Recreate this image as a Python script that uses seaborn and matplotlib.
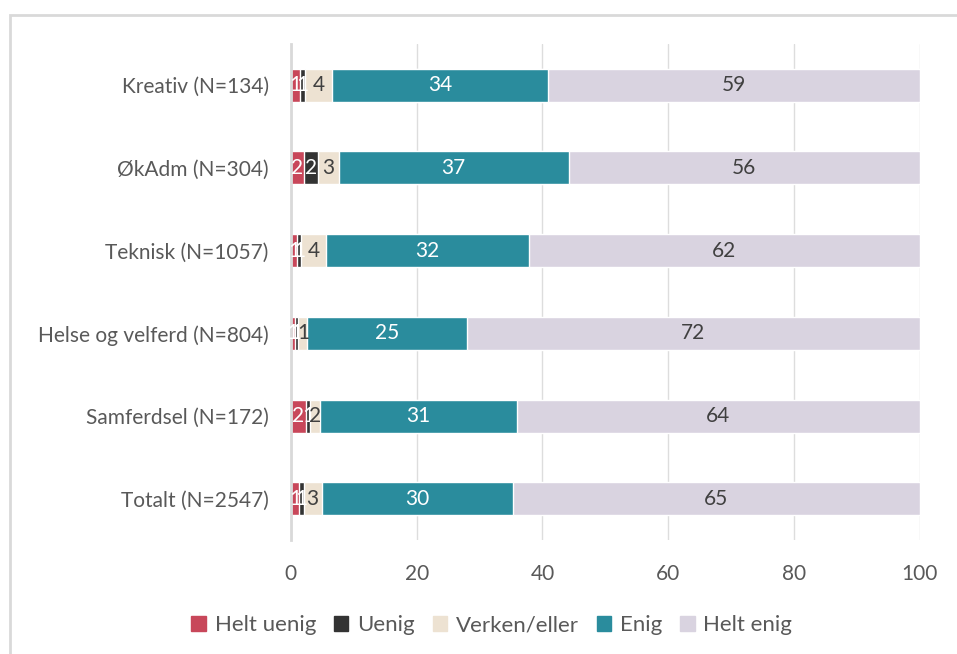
import numpy as np
import pandas as pd
import matplotlib
matplotlib.use("Agg")
import matplotlib.pyplot as plt
import matplotlib.patches as mpatches
import seaborn as sns

# Data (percent)
groups = ['Kreativ (N=134)', 'ØkAdm (N=304)', 'Teknisk (N=1057)',
          'Helse og velferd (N=804)', 'Samferdsel (N=172)', 'Totalt (N=2547)']
helt_uenig = [1.4, 2.1, 1.0, 0.6, 2.4, 1.3]
uenig = [0.8, 2.2, 0.6, 0.6, 0.6, 0.7]
verken = [4.4, 3.3, 4.0, 1.4, 1.7, 2.9]
enig = [34.3, 36.6, 32.3, 25.4, 31.2, 30.4]
helt_enig = [59.1, 55.8, 62.1, 72.0, 64.1, 64.7]

categories = ['Helt uenig', 'Uenig', 'Verken/eller', 'Enig', 'Helt enig']
colors = ['#C8475A', '#333333', '#EDE2D2', '#2A8C9D', '#D9D3E0']
label_colors = ['white', 'white', '#404040', 'white', '#404040']

df = pd.DataFrame({'group': groups, 'Helt uenig': helt_uenig, 'Uenig': uenig,
                   'Verken/eller': verken, 'Enig': enig, 'Helt enig': helt_enig})
cum = df[categories].cumsum(axis=1)

sns.set_theme(style='white')
plt.rcParams['font.family'] = ['Lato', 'DejaVu Sans']
text_col = '#595959'

fig = plt.figure(figsize=(9.57, 6.54), dpi=100)
ax = fig.add_axes([0.304, 0.174, 0.657, 0.759])

# stacked bars: draw cumulative totals from the largest down
for cat, col in reversed(list(zip(categories, colors))):
    sns.barplot(x=cum[cat], y=df['group'], color=col, width=0.4,
                saturation=1, ax=ax, zorder=3, orient='h')

# segment labels
for i in range(len(groups)):
    start = 0
    for cat, lc in zip(categories, label_colors):
        v = df.loc[i, cat]
        ax.text(start + v / 2, i, f'{round(v):.0f}', ha='center', va='center',
                color=lc, fontsize=15, zorder=5)
        start += v

ax.set_xlim(0, 100)
ax.set_ylim(5.5, -0.5)
ax.set_xticks(np.arange(0, 101, 20))
ax.set_xlabel('')
ax.set_ylabel('')
ax.grid(axis='x', color='#DDDDDD', linewidth=1.0, zorder=0)
ax.grid(axis='y', visible=False)
for s in ['top', 'right', 'bottom']:
    ax.spines[s].set_visible(False)
ax.spines['left'].set_color('#D9D9D9')
ax.spines['left'].set_linewidth(2)
ax.spines['left'].set_zorder(4)
ax.tick_params(axis='x', length=0, pad=17, labelsize=15, labelcolor=text_col)
ax.tick_params(axis='y', length=0, pad=16, labelsize=15, labelcolor=text_col)

handles = [mpatches.Patch(color=c, label=l) for c, l in zip(colors, categories)]
fig.legend(handles=handles, loc='center', bbox_to_anchor=(0.514, 0.044), ncol=5,
           frameon=False, fontsize=16, handlelength=0.65, handleheight=0.65,
           handletextpad=0.4, columnspacing=0.8, labelcolor=text_col)

# chart border (top and left visible)
fig.patches.append(mpatches.Rectangle((10 / 957, -0.1), 1.2, 1 - 15 / 654 + 0.1,
                                      transform=fig.transFigure, fill=False,
                                      edgecolor='#D9D9D9', linewidth=2))

fig.savefig('out.png', dpi=100)
